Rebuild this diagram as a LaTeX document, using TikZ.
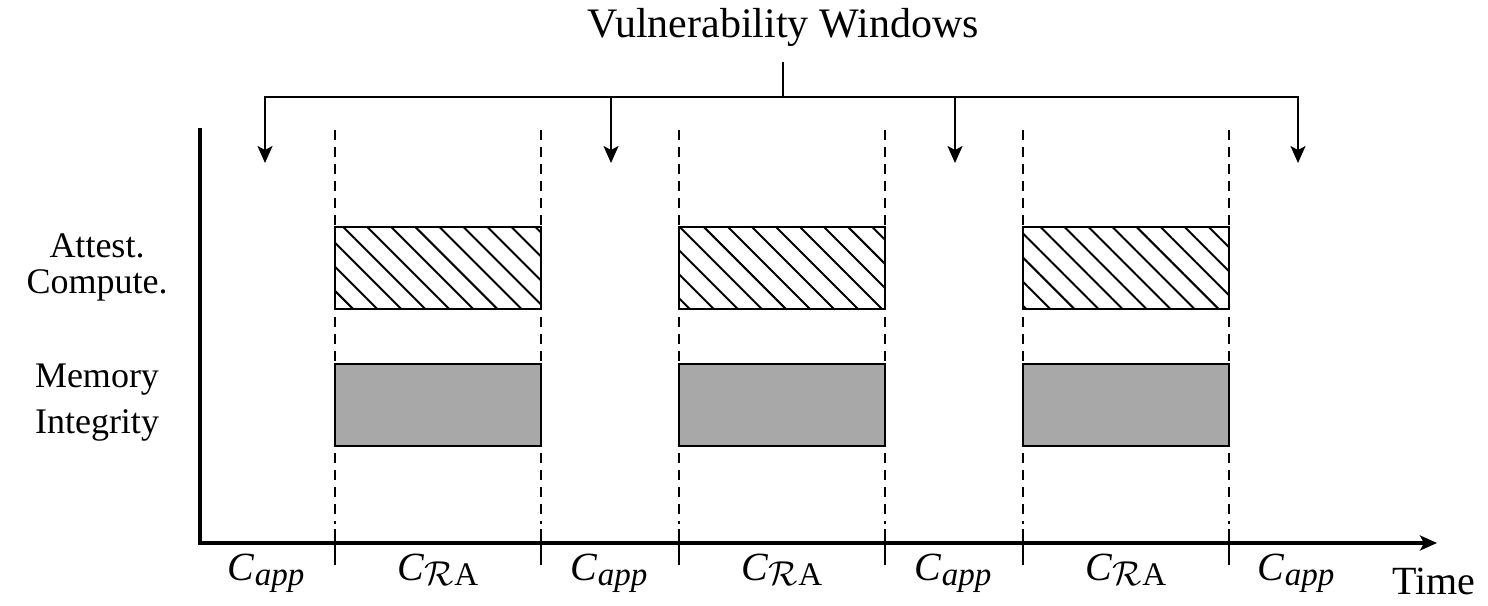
\documentclass[tikz,border=0pt]{standalone}
\usepackage{fontspec}
\setmainfont{Liberation Serif}
\usetikzlibrary{arrows.meta,patterns.meta}
\definecolor{membox}{RGB}{168,168,168}
\newcommand\capp{\textit{C}\raisebox{-2.5pt}{\fontsize{16.5}{16.5}\selectfont\textit{app}}}
\newcommand\cra{\textit{C}\raisebox{-2.5pt}{\fontsize{16.5}{16.5}\selectfont$\mathcal{R}$A}}
\begin{document}
\begin{tikzpicture}[x=0.5pt,y=-0.5pt,
  axisline/.style={line width=1.6pt},
  guide/.style={line width=0.7pt, dash pattern=on 5pt off 3.5pt},
  tick/.style={line width=0.7pt},
  bracket/.style={line width=1.1pt},
  tip/.style={-{Stealth[length=8.5pt,width=7.5pt,inset=2pt]}},
  attestbox/.style={draw, line width=1pt, minimum width=103pt, minimum height=41pt, inner sep=0pt,
    pattern={Lines[angle=-45,distance=8.5pt,line width=1pt]}},
  membox/.style={draw, line width=1pt, fill=membox, minimum width=103pt, minimum height=41pt, inner sep=0pt},
  rowlabel/.style={font=\fontsize{18}{18}\selectfont, anchor=base, inner sep=0pt},
  seglabel/.style={font=\fontsize{20}{20}\selectfont, anchor=base, inner sep=0pt},
  titlelabel/.style={font=\fontsize{21}{21}\selectfont, anchor=base, inner sep=0pt}]
\useasboundingbox (0,0) rectangle (1488,605);

% axes
\coordinate (ytop) at (200,128);
\coordinate (origin) at (200,543);
\coordinate (xend) at (1437,543);
\draw[axisline,tip] (ytop) -- (origin) -- (xend);

% phase boundaries: dashed guides with a tick through the time axis
\foreach \i/\x in {1/335,2/541,3/679,4/885,5/1023,6/1229} {
  \coordinate (g\i top) at (\x,130);
  \coordinate (g\i bot) at (\x,524);
  \coordinate (g\i tk) at (\x,529);
  \coordinate (g\i tkb) at (\x,565);
  \draw[guide] (g\i top) -- (g\i bot);
  \draw[tick] (g\i tk) -- (g\i tkb);
}

% attestation computation and memory integrity blocks
\foreach \i/\x in {1/438,2/782,3/1126} {
  \node[attestbox] (att\i) at (\x,268) {};
  \node[membox] (mem\i) at (\x,405) {};
}

% row labels
\node[rowlabel] (lblA) at (97,257) {Attest.};
\node[rowlabel] (lblB) at (97,293) {Compute.};
\node[rowlabel] (lblC) at (97,387) {Memory};
\node[rowlabel] (lblD) at (97,433) {Integrity};

% segment labels under the time axis
\node[seglabel] (s1) at (266,580) {\capp};
\node[seglabel] (s2) at (438,580) {\cra};
\node[seglabel] (s3) at (609,580) {\capp};
\node[seglabel] (s4) at (782,580) {\cra};
\node[seglabel] (s5) at (953,580) {\capp};
\node[seglabel] (s6) at (1126,580) {\cra};
\node[seglabel] (s7) at (1296,580) {\capp};
\node[seglabel] (time) at (1434,594) {Time};

% vulnerability windows bracket
\node[titlelabel] (title) at (783,37) {Vulnerability Windows};
\coordinate (stem) at (783,62);
\coordinate (hub) at (783,97);
\coordinate (w1) at (265,163);
\coordinate (w2) at (611,163);
\coordinate (w3) at (955,163);
\coordinate (w4) at (1298,163);
\coordinate (b1) at (265,97);
\coordinate (b2) at (611,97);
\coordinate (b3) at (955,97);
\coordinate (b4) at (1298,97);
\draw[bracket] (stem) -- (hub);
\draw[bracket,{Stealth[length=8.5pt,width=7.5pt,inset=2pt]}-{Stealth[length=8.5pt,width=7.5pt,inset=2pt]}] (w1) -- (b1) -- (b4) -- (w4);
\draw[bracket,tip] (b2) -- (w2);
\draw[bracket,tip] (b3) -- (w3);
\end{tikzpicture}
\end{document}
